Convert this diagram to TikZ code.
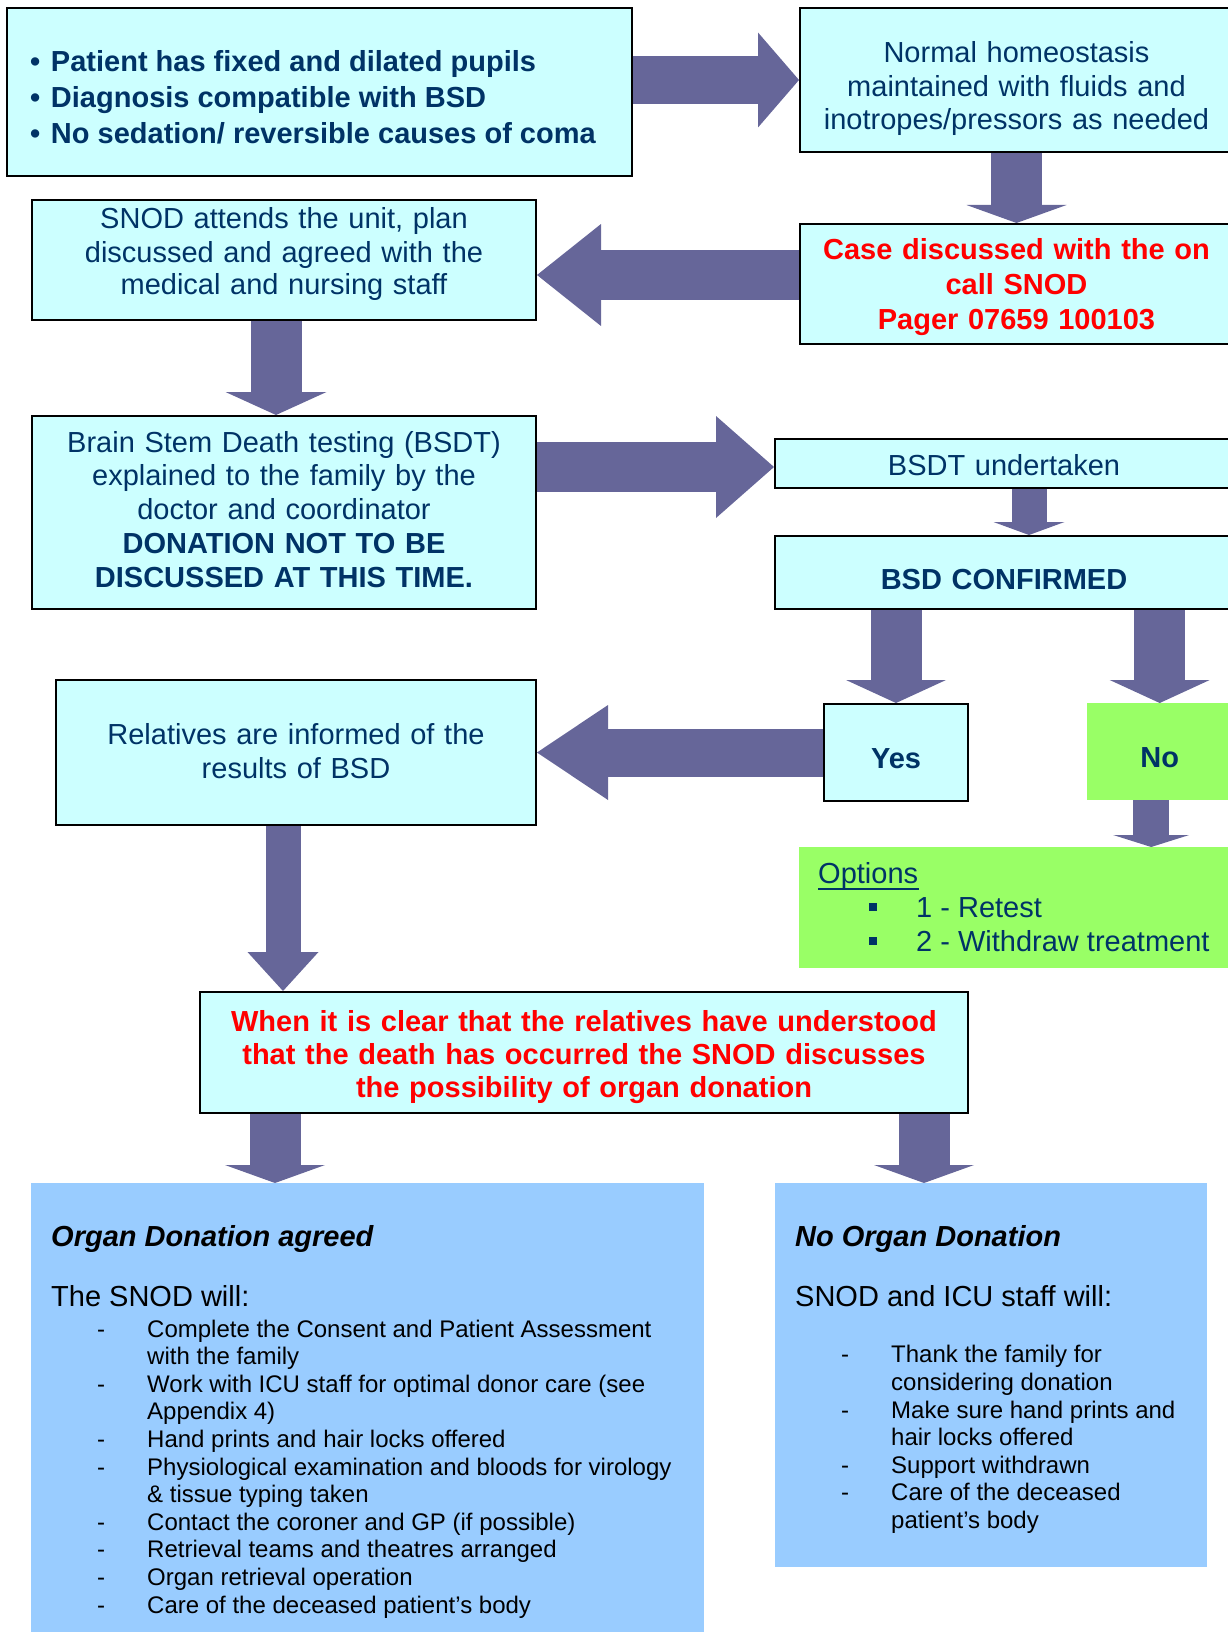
\documentclass[tikz,border=0pt]{standalone}
\usepackage{fontspec}
\setmainfont{Liberation Sans}
\usetikzlibrary{arrows.meta}
\definecolor{cyanfill}{HTML}{CCFFFF}
\definecolor{navy}{HTML}{003366}
\definecolor{arrowc}{HTML}{666699}
\definecolor{greenfill}{HTML}{99FF66}
\definecolor{bluefill}{HTML}{99CCFF}

\begin{document}
\begin{tikzpicture}[x=1pt,y=-1pt,
  every node/.style={anchor=north west,inner sep=0pt},
  box/.style={draw=black,line width=2pt,fill=cyanfill,text=navy,align=center,font=\fontsize{29}{34}\selectfont},
  greenbox/.style={fill=greenfill,text=navy,align=center,font=\fontsize{29}{34}\selectfont},
  bluebox/.style={fill=bluefill,text=black,align=flush left,inner xsep=20pt,font=\fontsize{29}{27.6}\selectfont},
  flow/.style n args={3}{draw=arrowc,line width=#1,-{Triangle[width=#2,length=#3,line width=0pt 0 0]}}]
\useasboundingbox (0,0) rectangle (1228,1632);

\node[box,align=flush left,inner xsep=23pt,text width=579pt,font=\fontsize{29}{36}\selectfont\bfseries] (pat) at (6,7)
  {\rule{0pt}{64pt}\makebox[21pt][l]{•}Patient has fixed and dilated pupils\\
   \makebox[21pt][l]{•}Diagnosis compatible with BSD\\
   \makebox[21pt][l]{•}No sedation/ reversible causes of coma\rule[-32pt]{0pt}{32pt}};
\node[box,text width=433pt,font=\fontsize{29}{33.5}\selectfont] (homeo) at (799,7)
  {\rule{0pt}{55pt}Normal homeostasis\\ maintained with fluids and\\ inotropes/pressors as needed\rule[-22pt]{0pt}{22pt}};
\node[box,text width=433pt,text=red,font=\fontsize{29}{35}\selectfont\bfseries] (case) at (799,223)
  {\rule{0pt}{35pt}Case discussed with the on\\ call SNOD\\ Pager 07659 100103\rule[-15pt]{0pt}{15pt}};
\node[box,text width=504pt,font=\fontsize{29}{33}\selectfont] (snod) at (31,199)
  {\rule{0pt}{29pt}SNOD attends the unit, plan\\ discussed and agreed with the\\ medical and nursing staff\rule[-25pt]{0pt}{25pt}};
\node[box,text width=504pt,font=\fontsize{29}{33.9}\selectfont] (bsdt) at (31,415)
  {\rule{0pt}{36pt}Brain Stem Death testing (BSDT)\\ explained to the family by the\\ doctor and coordinator\\
   \textbf{DONATION NOT TO BE}\\ \textbf{DISCUSSED AT THIS TIME.}\rule[-21.4pt]{0pt}{21.4pt}};
\node[box,text width=458pt] (und) at (774,438)
  {\rule{0pt}{36.6pt}BSDT undertaken\rule[-12.4pt]{0pt}{12.4pt}};
\node[box,text width=458pt,font=\fontsize{29}{34}\selectfont\bfseries] (conf) at (774,535)
  {\rule{0pt}{53pt}BSD CONFIRMED\rule[-20pt]{0pt}{20pt}};
\node[box,text width=144pt,font=\fontsize{29}{34}\selectfont\bfseries] (yes) at (823,703)
  {\rule{0pt}{64.4pt}Yes\rule[-32.6pt]{0pt}{32.6pt}};
\node[greenbox,text width=145pt,font=\fontsize{29}{34}\selectfont\bfseries] (no) at (1087,703)
  {\rule{0pt}{64.4pt}No\rule[-32.6pt]{0pt}{32.6pt}};
\node[box,text width=480pt] (rel) at (55,679)
  {\rule{0pt}{64.7pt}Relatives are informed of the\\ results of BSD\rule[-46.3pt]{0pt}{46.3pt}};
\node[greenbox,align=flush left,inner xsep=19pt,text width=420pt] (opt) at (799,847)
  {\rule{0pt}{36pt}\rlap{\rule[-7pt]{101pt}{2.5pt}}Options\\
   \hspace*{51pt}\makebox[47pt][l]{\rule[6pt]{8pt}{8pt}}1 - Retest\\
   \hspace*{51pt}\makebox[47pt][l]{\rule[6pt]{8pt}{8pt}}2 - Withdraw treatment\rule[-17pt]{0pt}{17pt}};
\node[box,text width=768pt,text=red,font=\fontsize{29}{33}\selectfont\bfseries] (clear) at (199,991)
  {\rule{0pt}{39pt}When it is clear that the relatives have understood\\ that the death has occurred the SNOD discusses\\
   the possibility of organ donation\rule[-16pt]{0pt}{16pt}};
\node[bluebox,text width=633pt] (agree) at (31,1183)
  {\rule{0pt}{63pt}\textbf{\textit{Organ Donation agreed}}\\[32.4pt]
   The SNOD will:\\[3.2pt]
   \fontsize{24}{27.6}\selectfont
   \hspace*{46pt}\makebox[50pt][l]{-}Complete the Consent and Patient Assessment\\
   \hspace*{96pt}with the family\\
   \hspace*{46pt}\makebox[50pt][l]{-}Work with ICU staff for optimal donor care (see\\
   \hspace*{96pt}Appendix 4)\\
   \hspace*{46pt}\makebox[50pt][l]{-}Hand prints and hair locks offered\\
   \hspace*{46pt}\makebox[50pt][l]{-}Physiological examination and bloods for virology\\
   \hspace*{96pt}\& tissue typing taken\\
   \hspace*{46pt}\makebox[50pt][l]{-}Contact the coroner and GP (if possible)\\
   \hspace*{46pt}\makebox[50pt][l]{-}Retrieval teams and theatres arranged\\
   \hspace*{46pt}\makebox[50pt][l]{-}Organ retrieval operation\\
   \hspace*{46pt}\makebox[50pt][l]{-}Care of the deceased patient’s body\rule[-25pt]{0pt}{25pt}};
\node[bluebox,text width=392pt] (noorg) at (775,1183)
  {\rule{0pt}{63pt}\textbf{\textit{No Organ Donation}}\\[32.4pt]
   SNOD and ICU staff will:\\[29pt]
   \fontsize{24}{27.6}\selectfont
   \hspace*{46pt}\makebox[50pt][l]{-}Thank the family for\\
   \hspace*{96pt}considering donation\\
   \hspace*{46pt}\makebox[50pt][l]{-}Make sure hand prints and\\
   \hspace*{96pt}hair locks offered\\
   \hspace*{46pt}\makebox[50pt][l]{-}Support withdrawn\\
   \hspace*{46pt}\makebox[50pt][l]{-}Care of the deceased\\
   \hspace*{96pt}patient’s body\rule[-38.8pt]{0pt}{38.8pt}};

\coordinate (c3) at ([yshift=9pt]case.west);
\coordinate (c4) at ([xshift=-8pt]snod.south);
\coordinate (c5) at ([yshift=-3.5pt]und.west);
\coordinate (c6) at ([xshift=25pt]und.south);
\coordinate (c10) at ([xshift=-8.5pt]no.south);
\coordinate (c11) at ([xshift=-13pt]rel.south);
\coordinate (c12) at ([xshift=76pt]clear.south west);
\coordinate (c13) at ([xshift=-45pt]clear.south east);

\path (pat.east |- homeo.west) edge[flow={48pt}{95pt}{41pt}] (homeo.west)
      (homeo.south) edge[flow={51pt}{100pt}{18pt}] (case.north)
      (c3) edge[flow={50pt}{102pt}{64pt}] (c3 -| snod.east)
      (c4) edge[flow={51pt}{101pt}{23pt}] (c4 |- bsdt.north)
      (c5 -| bsdt.east) edge[flow={50pt}{102pt}{58pt}] (c5)
      (c6) edge[flow={35pt}{71pt}{13pt}] (c6 |- conf.north)
      (yes.north |- conf.south) edge[flow={51pt}{100pt}{23pt}] (yes.north)
      (no.north |- conf.south) edge[flow={51pt}{100pt}{23pt}] (no.north)
      (yes.west) edge[flow={48pt}{95pt}{71pt}] (yes.west -| rel.east)
      (c10) edge[flow={36pt}{76pt}{12pt}] (c10 |- opt.north)
      (c11) edge[flow={35pt}{71pt}{39pt}] (c11 |- clear.north)
      (c12) edge[flow={51pt}{100pt}{18pt}] (c12 |- agree.north)
      (c13) edge[flow={51pt}{100pt}{18pt}] (c13 |- noorg.north)
;
\end{tikzpicture}
\end{document}
